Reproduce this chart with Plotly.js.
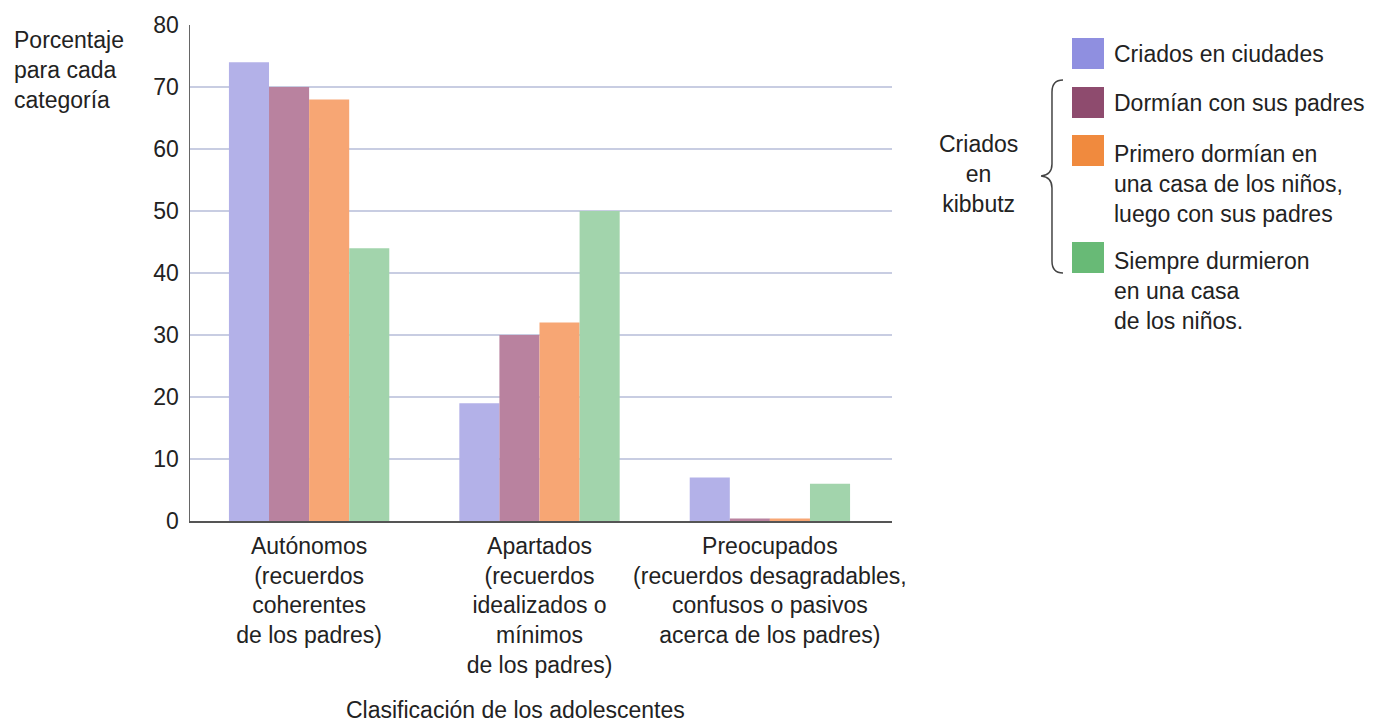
<!DOCTYPE html>
<html>
<head>
<meta charset="utf-8">
<script src="https://cdn.plot.ly/plotly-3.0.1.min.js"></script>
<style>
  html, body { margin: 0; padding: 0; background: #ffffff; }
  #chart { width: 1380px; height: 728px; }
</style>
</head>
<body>
<div id="chart"></div>
<script>
// Clasificación del apego adulto de adolescentes según su crianza
const categorias = [
  'Autónomos<br>(recuerdos<br>coherentes<br>de los padres)',
  'Apartados<br>(recuerdos<br>idealizados o<br>mínimos<br>de los padres)',
  'Preocupados<br>(recuerdos desagradables,<br>confusos o pasivos<br>acerca de los padres)'
];
const ciudades        = [74, 19, 7];
const conPadres       = [70, 30, 0.4];
const casaLuegoPadres = [68, 32, 0.4];
const casaNinos       = [44, 50, 6];

const nombresSeries = [
  'Criados en ciudades',
  'Dormían con sus padres',
  'Primero dormían en<br>una casa de los niños,<br>luego con sus padres',
  'Siempre durmieron<br>en una casa<br>de los niños.'
];
const valoresSeries = [ciudades, conPadres, casaLuegoPadres, casaNinos];

const coloresBarra   = ['#b3b1e8', '#b9829f', '#f7a674', '#a2d4ac'];
const coloresLeyenda = ['#8f8fe0', '#8e4b6e', '#f08a3e', '#68ba76'];

const FUENTE = '"Liberation Sans", Arial, sans-serif';
const TEXTO = '#222222';

// plot area in pixels, used to place the hand-drawn legend
const W = 1380, H = 728;
const M = { l: 190, r: 488, t: 25, b: 207 };
const plotW = W - M.l - M.r, plotH = H - M.t - M.b;
const px = x => (x - M.l) / plotW;
const py = y => (H - M.b - y) / plotH;

const traces = valoresSeries.map((vals, i) => ({
  type: 'bar',
  x: categorias,
  y: vals,
  name: nombresSeries[i],
  marker: { color: coloresBarra[i], line: { width: 0 } },
  hoverinfo: 'skip'
}));

// legend swatches
const swatchTops = [38, 87, 135, 242];
const shapes = swatchTops.map((t, i) => ({
  type: 'rect', xref: 'paper', yref: 'paper',
  x0: px(1072), x1: px(1104), y0: py(t), y1: py(t + 31),
  fillcolor: coloresLeyenda[i], line: { width: 0 }
}));

// curly brace grouping the kibbutz series
const P = (x, y) => px(x).toFixed(4) + ',' + py(y).toFixed(4);
shapes.push({
  type: 'path', xref: 'paper', yref: 'paper',
  path: 'M' + P(1063, 80) +
        ' Q' + P(1052, 80) + ' ' + P(1052, 92) +
        ' L' + P(1052, 164) +
        ' Q' + P(1052, 175) + ' ' + P(1041, 176) +
        ' Q' + P(1052, 177) + ' ' + P(1052, 188) +
        ' L' + P(1052, 261) +
        ' Q' + P(1052, 273) + ' ' + P(1063, 273),
  line: { color: '#444444', width: 1.5 }
});

const legendMid = [54, 103, 184, 291];
const annotations = nombresSeries.map((txt, i) => ({
  xref: 'paper', yref: 'paper',
  x: px(1112), y: py(legendMid[i]),
  xanchor: 'left', yanchor: 'middle', align: 'left',
  text: txt, showarrow: false,
  font: { family: FUENTE, size: 23, color: TEXTO }
}));

annotations.push({
  xref: 'paper', yref: 'paper',
  x: px(978), y: py(174),
  xanchor: 'center', yanchor: 'middle', align: 'center',
  text: 'Criados<br>en<br>kibbutz', showarrow: false,
  font: { family: FUENTE, size: 23, color: TEXTO }
});

annotations.push({
  xref: 'paper', yref: 'paper',
  x: px(12), y: py(70),
  xanchor: 'left', yanchor: 'middle', align: 'left',
  text: 'Porcentaje<br>para cada<br>categoría', showarrow: false,
  font: { family: FUENTE, size: 23, color: TEXTO }
});

annotations.push({
  xref: 'paper', yref: 'paper',
  x: px(344), y: py(710),
  xanchor: 'left', yanchor: 'middle',
  text: 'Clasificación de los adolescentes', showarrow: false,
  font: { family: FUENTE, size: 23, color: TEXTO }
});

const layout = {
  width: W, height: H,
  margin: M,
  paper_bgcolor: '#ffffff',
  plot_bgcolor: '#ffffff',
  showlegend: false,
  barmode: 'group',
  bargap: 0.304,
  bargroupgap: 0,
  font: { family: FUENTE, size: 23, color: TEXTO },
  xaxis: {
    type: 'category',
    range: [-0.517, 2.53],
    showline: true, linecolor: '#555555', linewidth: 2,
    showgrid: false, zeroline: false, ticks: '',
    tickfont: { family: FUENTE, size: 23, color: TEXTO },
    ticklabelstandoff: 3
  },
  yaxis: {
    range: [0, 80],
    dtick: 10,
    showline: true, linecolor: '#666666', linewidth: 1.5,
    showgrid: true, gridcolor: '#c8cde2', gridwidth: 2,
    zeroline: false, ticks: '',
    tickfont: { family: FUENTE, size: 23, color: TEXTO },
    ticklabelstandoff: 5
  },
  shapes: shapes,
  annotations: annotations
};

Plotly.newPlot('chart', traces, layout, { displayModeBar: false, staticPlot: true });
</script>
</body>
</html>
